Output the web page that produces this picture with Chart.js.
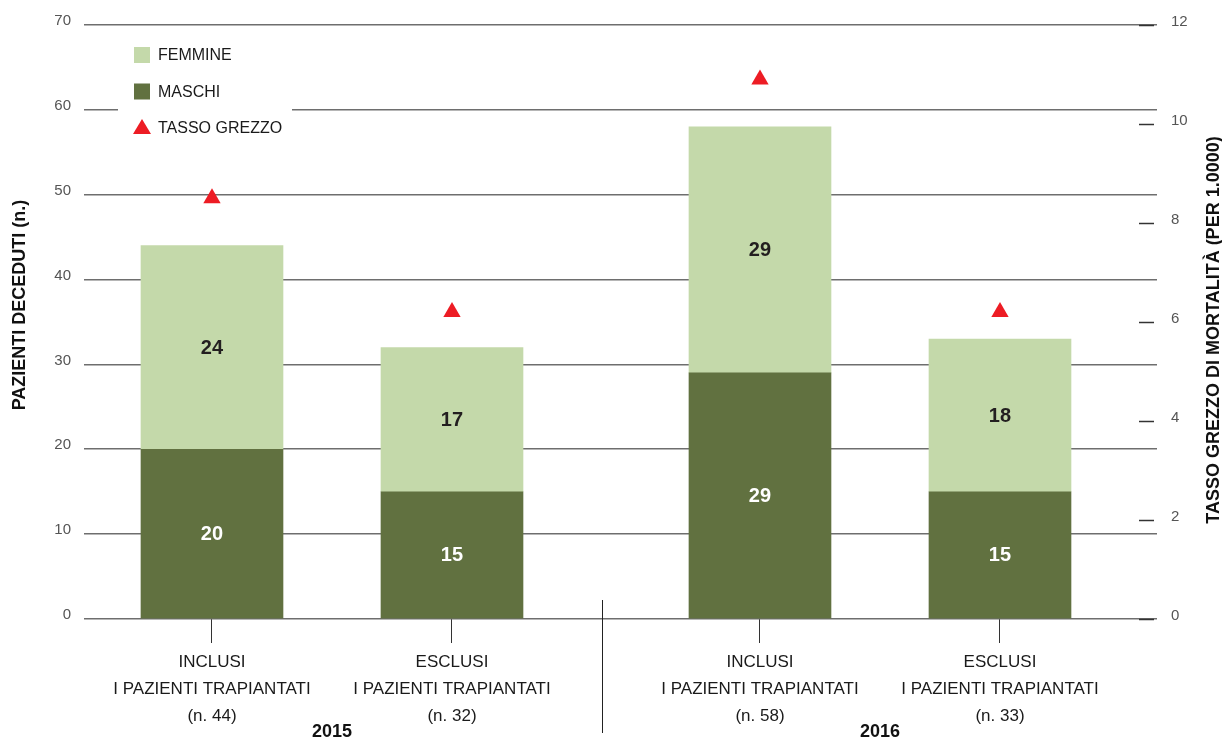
<!DOCTYPE html>
<html>
<head>
<meta charset="utf-8">
<script src="https://cdn.jsdelivr.net/npm/chart.js@4.4.1/dist/chart.umd.min.js"></script>
<style>
  html, body { margin: 0; padding: 0; background: #fff; }
  #wrap { width: 1222px; height: 738px; position: relative; }
</style>
</head>
<body>
<div id="wrap"><canvas id="mortalityChart"></canvas></div>
<script>
// data
const categories = [
  ["INCLUSI", "I PAZIENTI TRAPIANTATI", "(n. 44)"],
  ["ESCLUSI", "I PAZIENTI TRAPIANTATI", "(n. 32)"],
  ["INCLUSI", "I PAZIENTI TRAPIANTATI", "(n. 58)"],
  ["ESCLUSI", "I PAZIENTI TRAPIANTATI", "(n. 33)"]
];
const years = ["2015", "2016"];
const maschi = [20, 15, 29, 15];
const femmine = [24, 17, 29, 18];
const tassoGrezzo = [8.5, 6.2, 10.9, 6.2];
const leftTicks = [0, 10, 20, 30, 40, 50, 60, 70];
const rightTicks = [0, 2, 4, 6, 8, 10, 12];

const FONT = '"Liberation Sans", Arial, sans-serif';
const GROUP_GAP = 0.2833; // extra space between the two years
const xPos = categories.map((c, i) => i + (i >= 2 ? GROUP_GAP : 0));
const pts = (vals) => vals.map((v, i) => ({ x: xPos[i], y: v }));

const decorations = {
  id: "decorations",
  afterDraw(chart) {
    const ctx = chart.ctx;
    const area = chart.chartArea;
    const x = chart.scales.x;
    const y1 = chart.scales.y1;
    ctx.save();

    // numbers inside the bars
    ctx.font = "bold 20px " + FONT;
    ctx.textAlign = "center";
    ctx.textBaseline = "middle";
    chart.data.datasets.forEach((ds, di) => {
      if (ds.type === "line") return;
      chart.getDatasetMeta(di).data.forEach((el, i) => {
        ctx.fillStyle = ds.labelColor;
        ctx.fillText(ds.data[i].y, el.x, (el.y + el.base) / 2 + 1);
      });
    });

    // short dashes on the right axis
    ctx.strokeStyle = "#333";
    ctx.lineWidth = 1.5;
    rightTicks.forEach(t => {
      const py = Math.round(y1.getPixelForValue(t)) + 0.5;
      ctx.beginPath();
      ctx.moveTo(area.right - 18, py);
      ctx.lineTo(area.right - 3, py);
      ctx.stroke();
    });

    // separator between the years
    const sepX = Math.round((x.getPixelForValue(xPos[1]) + x.getPixelForValue(xPos[2])) / 2) - 3.5;
    ctx.lineWidth = 1;
    ctx.strokeStyle = "#222";
    ctx.beginPath();
    ctx.moveTo(sepX, area.bottom - 19);
    ctx.lineTo(sepX, chart.height - 5);
    ctx.stroke();

    // year labels
    ctx.fillStyle = "#111";
    ctx.font = "bold 18px " + FONT;
    years.forEach((yr, g) => {
      const cx = (x.getPixelForValue(xPos[g * 2]) + x.getPixelForValue(xPos[g * 2 + 1])) / 2;
      ctx.fillText(yr, cx, chart.height - 6);
    });

    // axis titles
    ctx.font = "bold 18px " + FONT;
    const midY = (area.top + area.bottom) / 2;
    ctx.save();
    ctx.translate(20, midY - 17);
    ctx.rotate(-Math.PI / 2);
    ctx.fillText(chart.scales.y.options.title.text, 0, 0);
    ctx.restore();
    ctx.save();
    ctx.translate(1214, midY + 8);
    ctx.rotate(-Math.PI / 2);
    ctx.fillText(y1.options.title.text, 0, 0);
    ctx.restore();

    // legend box inside the plot
    const lx = area.left + 34, ly = area.top + 11;
    ctx.fillStyle = "#fff";
    ctx.fillRect(lx, ly, 174, 112);
    const order = [1, 0, 2];
    ctx.font = "16px " + FONT;
    ctx.textAlign = "left";
    order.forEach((di, k) => {
      const ds = chart.data.datasets[di];
      const cy = area.top + 30 + k * 36.5;
      const mx = area.left + 50;
      ctx.fillStyle = ds.backgroundColor;
      if (ds.type === "line") {
        ctx.beginPath();
        ctx.moveTo(mx + 8, cy - 9);
        ctx.lineTo(mx + 17, cy + 6);
        ctx.lineTo(mx - 1, cy + 6);
        ctx.closePath();
        ctx.fill();
      } else {
        ctx.fillRect(mx, cy - 8, 16, 16);
      }
      ctx.fillStyle = "#1a1a1a";
      ctx.fillText(ds.label, mx + 24, cy + 1);
    });
    ctx.restore();
  }
};

new Chart(document.getElementById("mortalityChart"), {
  data: {
    datasets: [
      {
        type: "bar",
        label: "MASCHI",
        data: pts(maschi),
        backgroundColor: "#617140",
        labelColor: "#ffffff",
        barThickness: 142
      },
      {
        type: "bar",
        label: "FEMMINE",
        data: pts(femmine),
        backgroundColor: "#c4d9aa",
        labelColor: "#231f20",
        barThickness: 142
      },
      {
        type: "line",
        label: "TASSO GREZZO",
        data: pts(tassoGrezzo),
        yAxisID: "y1",
        showLine: false,
        pointStyle: "triangle",
        pointRadius: 10,
        pointHoverRadius: 10,
        backgroundColor: "#ed1c24",
        borderColor: "#ed1c24",
        borderWidth: 0
      }
    ]
  },
  options: {
    responsive: true,
    maintainAspectRatio: false,
    animation: false,
    layout: { padding: { top: 25, bottom: 0, left: 0, right: 0 } },
    plugins: {
      legend: { display: false },
      tooltip: { enabled: false }
    },
    scales: {
      x: {
        type: "linear",
        stacked: true,
        offset: false,
        min: -0.5333,
        max: 3.9375,
        afterBuildTicks: (s) => { s.ticks = xPos.map(v => ({ value: v })); },
        afterFit: (s) => { s.height = 119; },
        ticks: {
          autoSkip: false,
          maxRotation: 0,
          padding: 6,
          color: "#1a1a1a",
          font: { family: FONT, size: 17, lineHeight: 1.59 },
          callback: (v, i) => categories[i]
        },
        grid: { offset: false, drawOnChartArea: false, drawTicks: true, tickLength: 24, color: "#333" },
        border: { display: false }
      },
      y: {
        stacked: true,
        min: 0,
        max: 70,
        afterBuildTicks: (s) => { s.ticks = leftTicks.map(v => ({ value: v })); },
        afterFit: (s) => { s.width = 84; },
        title: { display: false, text: "PAZIENTI DECEDUTI (n.)" },
        ticks: {
          padding: 13,
          labelOffset: -4,
          color: "#555",
          font: { family: FONT, size: 15 }
        },
        grid: { color: "#6e6e6e", lineWidth: 1.6, drawTicks: false },
        border: { display: false }
      },
      y1: {
        position: "right",
        min: 0,
        max: 12,
        afterBuildTicks: (s) => { s.ticks = rightTicks.map(v => ({ value: v })); },
        afterFit: (s) => { s.width = 65; },
        title: { display: false, text: "TASSO GREZZO DI MORTALITÀ (PER 1.0000)" },
        ticks: {
          padding: 6,
          labelOffset: -3,
          color: "#555",
          font: { family: FONT, size: 15 }
        },
        grid: { display: false },
        border: { display: false }
      }
    }
  },
  plugins: [decorations]
});
</script>
</body>
</html>
